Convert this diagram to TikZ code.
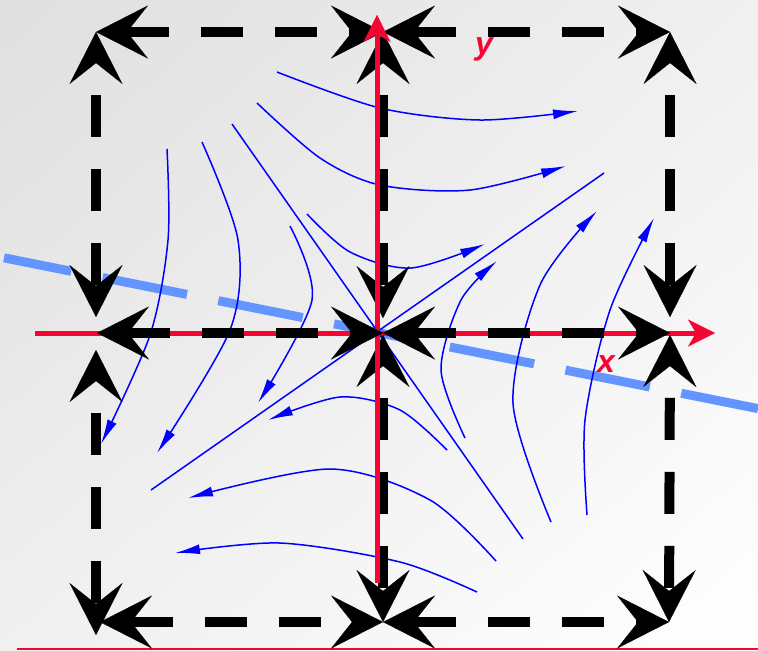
\documentclass[tikz,border=0pt]{standalone}
\usepackage{fontspec}
\setsansfont{Liberation Sans}
\usepackage{tikz}
\usetikzlibrary{arrows.meta, calc, positioning, shadings}
\definecolor{ax_red}{RGB}{245,5,50}
\definecolor{sep_blue}{RGB}{100,148,255}
\definecolor{flow_blue}{RGB}{0,0,255}
\tikzset{
    sepline/.style={
        line width=5pt, black, dash pattern=on 21pt off 16pt,
        >={Stealth[length=26pt, width=26.5pt, inset=10.5pt, line width=0.1pt]}, <->
    },
    sepvert/.style={sepline, dash phase=21pt},
    flowline/.style={line width=0.75pt, flow_blue},
    flowarrow/.style={flowline, -{Latex[length=12.5pt, width=5pt]}},
    axisline/.style={
        line width=2.5pt, ax_red,
        -{Stealth[length=13.5pt, width=13.5pt, inset=4pt, line width=0.1pt]}
    },
    divline/.style={line width=4.5pt, sep_blue, dash pattern=on 43pt off 16pt, dash phase=8.7pt},
    axlabel/.style={
        text=ax_red, inner sep=0pt, anchor=base,
        font=\sffamily\bfseries\itshape\fontsize{16}{18}\selectfont
    },
}

\begin{document}
\begin{tikzpicture}[x=0.5pt, y=-0.5pt]
    \useasboundingbox (0,0) rectangle (758,650);
    % background
    \shade[upper left=gray!25, upper right=gray!12, lower left=gray!12, lower right=white]
        (0,0) rectangle (758,650);

    % grid corners of the dashed square
    \coordinate (tl) at (96,32);
    \coordinate (tc) at (383,32);
    \coordinate (tr) at (670,32);
    \coordinate (ml) at (97,333);
    \coordinate (mc) at (383,333);
    \coordinate (mr) at (670,333);
    \coordinate (bl) at (100,622);
    \coordinate (bc) at (383,622);
    \coordinate (br) at (669,622);
    % ends of the vertical pieces
    \coordinate (lu) at (96,317);
    \coordinate (ll) at (96,350);
    \coordinate (lb) at (96,635);
    \coordinate (cu) at (383,318);
    \coordinate (cl) at (383,335);
    \coordinate (ru) at (670,317);
    \coordinate (rl) at (670,335);

    % slanted separatrix
    \coordinate (da) at (4,257.8);
    \coordinate (db) at (758,408.6);
    \draw[divline] (da) -- (db);

    % axes
    \coordinate (xs) at (35,333);
    \coordinate (xe) at (715,333);
    \coordinate (ys) at (377,583);
    \coordinate (ye) at (377,15);
    \draw[axisline] (xs) -- (xe);
    \coordinate (rs) at (17,649);
    \coordinate (re) at (758,649);
    \draw[ax_red, line width=0.75pt] (rs) -- (re);

    % flow lines
    \draw[flowarrow] plot[smooth] coordinates {(277,72) (380,108) (480,120) (578,111)};
    \draw[flowarrow] plot[smooth] coordinates {(257,103) (320,158) (380,185) (470,190) (566,166)};
    \draw[flowarrow] plot[smooth] coordinates {(307,214) (350,252) (411,268) (485,244)};
    \draw[flowarrow] plot[smooth] coordinates {(167,149) (168,240) (150,335) (101,444)};
    \draw[flowarrow] plot[smooth] coordinates {(202,142) (238,240) (230,330) (157,453)};
    \draw[flowarrow] plot[smooth] coordinates {(290,226) (312,300) (258,403)};
    \draw[flowarrow] plot[smooth] coordinates {(447,450) (400,410) (340,397) (268,420)};
    \draw[flowarrow] plot[smooth] coordinates {(496,561) (430,500) (330,469) (188,498)};
    \draw[flowarrow] plot[smooth] coordinates {(477,592) (400,562) (280,543) (175,553)};
    \draw[flowarrow] plot[smooth] coordinates {(465,438) (441,370) (461,300) (497,261)};
    \draw[flowarrow] plot[smooth] coordinates {(551,522) (513,403) (540,285) (597,211)};
    \draw[flowarrow] plot[smooth] coordinates {(587,515) (585,420) (610,310) (654,218)};
    \coordinate (sa) at (232,124);
    \coordinate (sb) at (523,539);
    \coordinate (sc) at (151,490);
    \coordinate (sd) at (604,173);
    \draw[flowline] (sa) -- (sb);
    \draw[flowline] (sc) -- (sd);

    % dashed square with arrows
    \draw[sepline] (tl) -- (tc);
    \draw[sepline] (tc) -- (tr);
    \draw[sepline] (bl) -- (bc);
    \draw[sepline] (bc) -- (br);
    \draw[sepvert] (tl) -- (lu);
    \draw[sepvert] (ll) -- (lb);
    \draw[sepvert] (tc) -- (cu);
    \draw[sepvert] (cl) -- (bc);
    \draw[sepvert] (tr) -- (ru);
    \draw[sepvert] (rl) -- (br);

    \draw[axisline] (ys) -- (ye);

    \draw[sepline] (ml) -- (mc);
    \draw[sepline] (mc) -- (mr);

    \node[axlabel] (ylab) at (484,54) {y};
    \node[axlabel] (xlab) at (606,372) {x};
\end{tikzpicture}
\end{document}
